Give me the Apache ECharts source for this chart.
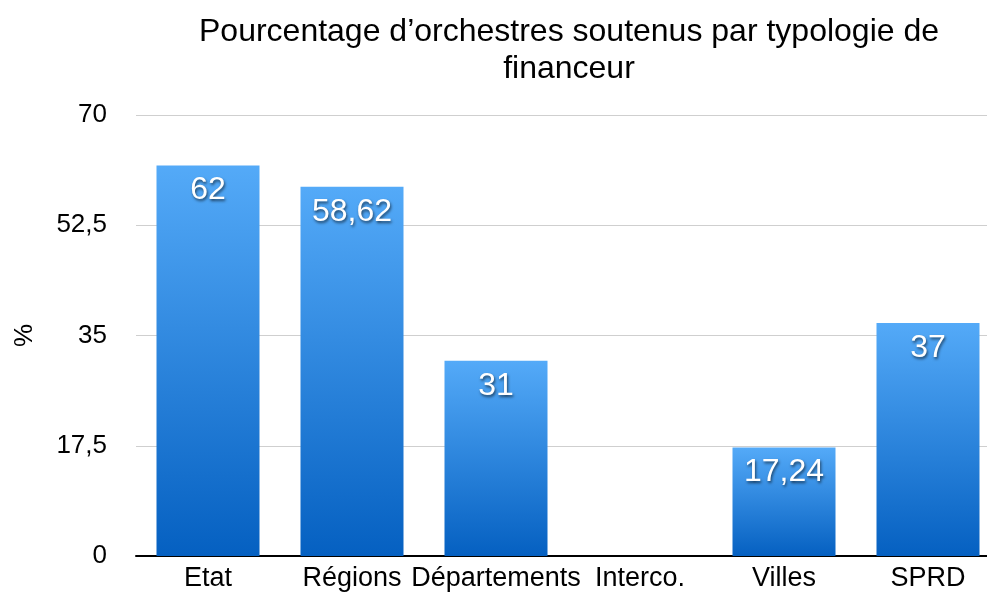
<!DOCTYPE html>
<html>
<head>
<meta charset="utf-8">
<script src="https://cdn.jsdelivr.net/npm/echarts@6/dist/echarts.min.js"></script>
<style>
  html, body { margin: 0; padding: 0; background: #fff; }
  #main { width: 987px; height: 592px; }
</style>
</head>
<body>
<div id="main"></div>
<script>
// données
const categories = ['Etat', 'Régions', 'Départements', 'Interco.', 'Villes', 'SPRD']
const values = [62, 58.62, 31, null, 17.24, 37]
const yTicks = [0, 17.5, 35, 52.5, 70]

const fmt = v => String(v).replace('.', ',')

const chart = echarts.init(document.getElementById('main'))
const option = {
  animation: false,
  textStyle: { fontFamily: 'Liberation Sans, Arial, sans-serif' },
  title: {
    text: 'Pourcentage d’orchestres soutenus par typologie de\nfinanceur',
    left: 564,
    top: 9,
    textAlign: 'center',
    textStyle: { fontSize: 32, fontWeight: 'normal', color: '#000', lineHeight: 37 }
  },
  // la zone de tracé déborde un peu à droite, comme sur l'original
  grid: { left: 136, width: 864, top: 115, bottom: 36, containLabel: false, outerBoundsMode: 'none' },
  xAxis: {
    type: 'category',
    data: categories,
    axisTick: { show: false },
    axisLine: { lineStyle: { color: '#000', width: 2 } },
    axisLabel: { color: '#000', fontSize: 27, margin: 9, interval: 0, hideOverlap: false }
  },
  yAxis: {
    type: 'value',
    min: yTicks[0],
    max: yTicks[yTicks.length - 1],
    interval: 17.5,
    name: '%',
    nameLocation: 'middle',
    nameGap: 98,
    nameTextStyle: { color: '#000', fontSize: 26 },
    axisLabel: { color: '#000', fontSize: 26, margin: 29, formatter: fmt },
    splitLine: { lineStyle: { color: '#cfcfcf', width: 1 } }
  },
  series: [{
    type: 'bar',
    data: values,
    barWidth: 103,
    itemStyle: {
      color: new echarts.graphic.LinearGradient(0, 0, 0, 1, [
        { offset: 0, color: '#54aaf8' },
        { offset: 1, color: '#0560c1' }
      ])
    },
    label: {
      show: true,
      position: 'insideTop',
      distance: 9,
      color: '#fff',
      fontSize: 32,
      textShadowColor: 'rgba(0,0,0,0.6)',
      textShadowBlur: 3,
      textShadowOffsetX: 1,
      textShadowOffsetY: 2,
      formatter: p => fmt(p.value)
    }
  }]
}
chart.setOption(option)
</script>
</body>
</html>
